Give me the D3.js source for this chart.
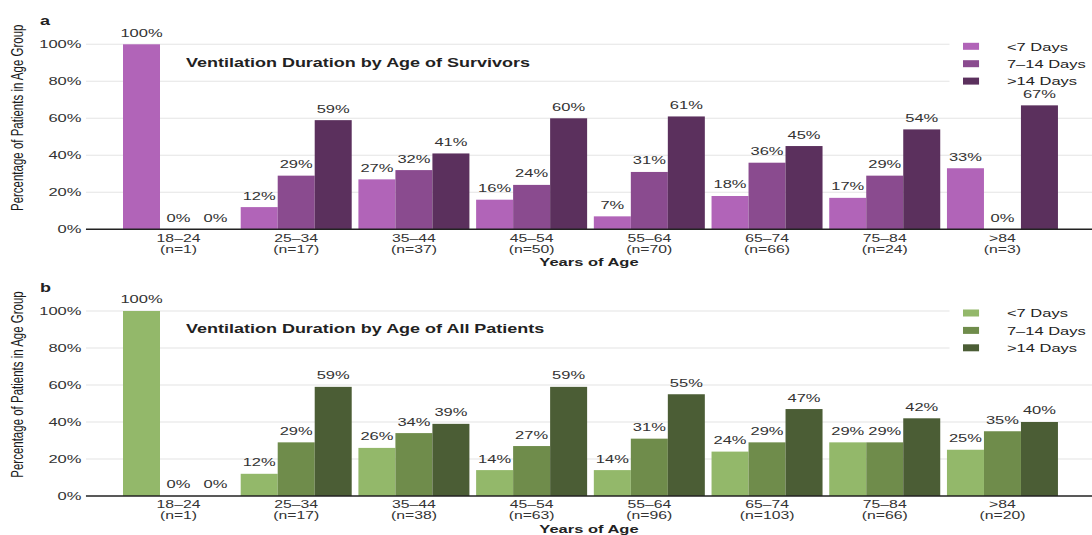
<!DOCTYPE html>
<html>
<head>
<meta charset="utf-8">
<script src="https://cdn.jsdelivr.net/npm/d3@7"></script>
<style>
  html, body { margin: 0; padding: 0; background: #fff; }
  svg { display: block; font-family: "Liberation Sans", Arial, Helvetica, sans-serif; }
</style>
</head>
<body>
<svg id="chart"></svg>
<script>
// Age bands and ventilation-duration classes
const ageGroups = ["18–24", "25–34", "35–44", "45–54", "55–64", "65–74", "75–84", ">84"];
const durations = ["<7 Days", "7–14 Days", ">14 Days"];
const yTicks = [0, 20, 40, 60, 80, 100];

// Panel a: survivors (percent of patients in each age group)
const survivorsN = [1, 17, 37, 50, 70, 66, 24, 3];
const survivorsUnder7 = [100, 12, 27, 16, 7, 18, 17, 33];
const survivors7to14 = [0, 29, 32, 24, 31, 36, 29, 0];
const survivorsOver14 = [0, 59, 41, 60, 61, 45, 54, 67];

// Panel b: all patients
const allN = [1, 17, 38, 63, 96, 103, 66, 20];
const allUnder7 = [100, 12, 26, 14, 14, 24, 29, 25];
const all7to14 = [0, 29, 34, 27, 31, 29, 29, 35];
const allOver14 = [0, 59, 39, 59, 55, 47, 42, 40];

const W = 1092, H = 535;
const SX = 1.5;               // horizontal stretch of the drawing
const VW = W / SX;            // drawing width in view units
const axisLeft = 57.3;
const plotH = 185;

const svg = d3.select("#chart")
  .attr("width", W).attr("height", H)
  .attr("viewBox", `0 0 ${VW} ${H}`)
  .attr("preserveAspectRatio", "none");

const x0 = d3.scaleBand().domain(ageGroups).range([82, 705.3]).paddingInner(0.057).paddingOuter(0);
const x1 = d3.scaleBand().domain(durations).range([0, x0.bandwidth()]);

function drawPanel(cfg) {
  const g = svg.append("g");
  const y = d3.scaleLinear().domain([0, 100]).range([cfg.bottom, cfg.bottom - plotH]);
  const color = d3.scaleOrdinal().domain(durations).range(cfg.colors);

  // horizontal gridlines
  g.append("g").selectAll("line").data(yTicks.filter(t => t > 0)).join("line")
    .attr("x1", axisLeft).attr("x2", VW)
    .attr("y1", d => y(d)).attr("y2", d => y(d))
    .attr("stroke", "#e4e4e4").attr("stroke-width", 1);

  // y axis labels
  const ya = g.append("g").attr("transform", `translate(${axisLeft},0)`)
    .call(d3.axisLeft(y).tickValues(yTicks).tickFormat(d => d + "%").tickSize(0).tickPadding(3));
  ya.attr("font-family", null).attr("font-size", null);
  ya.select(".domain").remove();
  ya.selectAll("text").attr("font-size", 11).attr("fill", "#333");

  // legend background, sits over the gridlines
  g.append("rect").attr("x", 633).attr("y", y(100) - 8).attr("width", VW - 633).attr("height", 56).attr("fill", "#fff");

  // bars
  const series = durations.map((dur, j) => ({ dur, values: cfg.series[j] }));
  const groups = g.append("g").selectAll("g").data(ageGroups).join("g")
    .attr("transform", d => `translate(${x0(d)},0)`);
  groups.selectAll("rect")
    .data((d, i) => series.map(s => ({ dur: s.dur, v: s.values[i] })))
    .join("rect")
    .attr("x", d => x1(d.dur)).attr("width", x1.bandwidth())
    .attr("y", d => y(d.v)).attr("height", d => y(0) - y(d.v))
    .attr("fill", d => color(d.dur));
  groups.selectAll("text")
    .data((d, i) => series.map(s => ({ dur: s.dur, v: s.values[i] })))
    .join("text")
    .attr("x", d => x1(d.dur) + x1.bandwidth() / 2)
    .attr("y", d => y(d.v) - 7.5)
    .attr("text-anchor", "middle").attr("font-size", 11).attr("fill", "#333")
    .text(d => d.v + "%");

  // baseline
  g.append("line").attr("x1", axisLeft).attr("x2", VW)
    .attr("y1", y(0)).attr("y2", y(0)).attr("stroke", "#222").attr("stroke-width", 1.4);

  // x axis: age band with group size underneath
  const xa = g.append("g").attr("transform", `translate(0,${y(0)})`)
    .call(d3.axisBottom(x0).tickSize(0).tickPadding(0));
  xa.attr("font-family", null).attr("font-size", null);
  xa.select(".domain").remove();
  xa.selectAll(".tick text").each(function (d, i) {
    const t = d3.select(this).text(null).attr("dy", null).attr("y", 0)
      .attr("font-size", 10.5).attr("fill", "#333");
    t.append("tspan").attr("x", 0).attr("y", 12.5).text(d);
    t.append("tspan").attr("x", 0).attr("y", 23.5).text(`(n=${cfg.n[i]})`);
  });

  g.append("text").attr("x", (axisLeft + VW) / 2).attr("y", y(0) + 37)
    .attr("text-anchor", "middle").attr("font-size", 11).attr("font-weight", "bold").attr("fill", "#222")
    .text("Years of Age");

  // y axis title
  const yc = y(50) - 19;
  g.append("text")
    .attr("transform", `translate(15.5,${yc}) rotate(-90)`)
    .attr("text-anchor", "middle")
    .attr("font-family", "'Liberation Sans Narrow', 'Liberation Sans', Arial, sans-serif")
    .attr("font-size", 11.5).attr("fill", "#1a1a1a")
    .text("Percentage of Patients in Age Group");

  // panel letter and title
  g.append("text").attr("x", 26.7).attr("y", y(100) - 19)
    .attr("font-size", 12).attr("font-weight", "bold").attr("fill", "#222").text(cfg.letter);
  g.append("text").attr("x", 124).attr("y", y(100) + 22.5)
    .attr("font-size", 12).attr("font-weight", "bold").attr("fill", "#222").text(cfg.title);

  // legend
  const lg = g.append("g").selectAll("g").data(durations).join("g")
    .attr("transform", (d, i) => `translate(642,${y(100) + 2.5 + i * 17.4})`);
  lg.append("rect").attr("x", 0).attr("y", -4).attr("width", 10.7).attr("height", 7).attr("fill", d => color(d));
  lg.append("text").attr("x", 29.3).attr("y", 0).attr("dy", "0.35em")
    .attr("font-size", 11).attr("fill", "#222").text(d => d);
}

drawPanel({
  letter: "a",
  title: "Ventilation Duration by Age of Survivors",
  bottom: 229.3,
  n: survivorsN,
  series: [survivorsUnder7, survivors7to14, survivorsOver14],
  colors: ["#b164b8", "#8a4b8f", "#5b305d"]
});

drawPanel({
  letter: "b",
  title: "Ventilation Duration by Age of All Patients",
  bottom: 496,
  n: allN,
  series: [allUnder7, all7to14, allOver14],
  colors: ["#93b86a", "#6f8c4b", "#4b5d35"]
});
</script>
</body>
</html>
